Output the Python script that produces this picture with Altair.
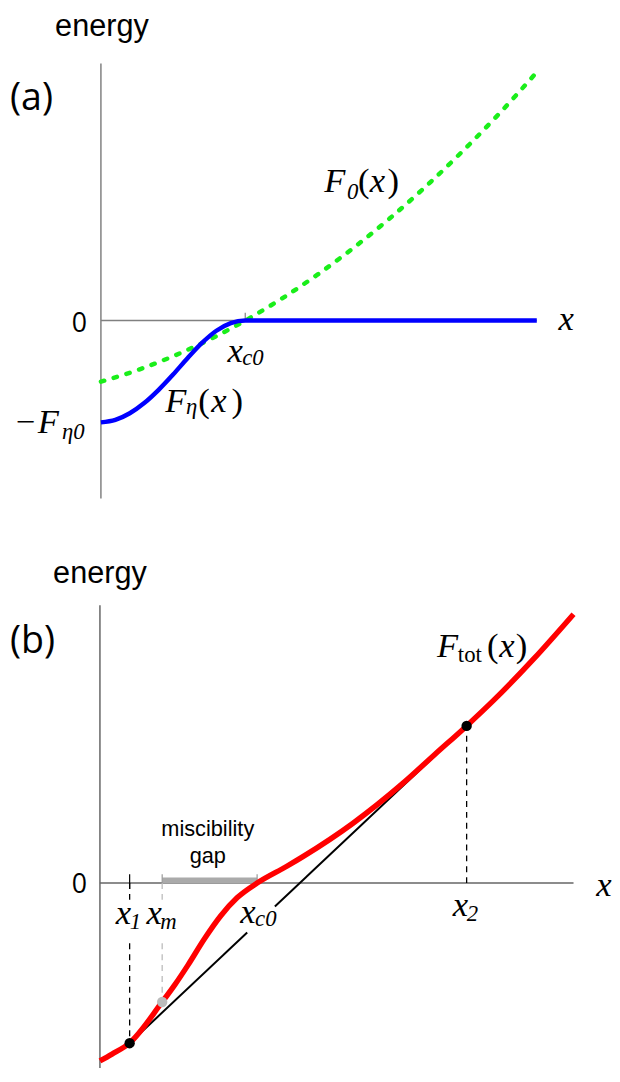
import altair as alt
import pandas as pd

# ---------------- panel (a): values ----------------
eta_x = [0.0, 0.1, 0.2, 0.3, 0.4, 0.5, 0.6, 0.7, 0.8, 0.9, 1.0, 3.02]
eta_y = [-1.00, -0.975, -0.91, -0.81, -0.68, -0.53, -0.37, -0.22, -0.10, -0.025, 0.0, 0.0]
f0_x = [0.0, 0.25, 0.5, 0.75, 1.0, 1.25, 1.5, 1.75, 2.0, 2.25, 2.5, 2.75, 3.02]
f0_y = [-0.600, -0.488, -0.350, -0.188, 0.0, 0.213, 0.451, 0.714, 1.002, 1.316, 1.655, 2.018, 2.44]
a_xc0 = 1.0
a_xend = 3.02
a_ytop, a_ybot = 2.524, -1.748

# ---------------- panel (b): values ----------------
tot_x = [0.0, 0.077, 0.187, 0.396, 0.476, 0.560, 0.665, 0.769, 0.874, 1.0, 1.189,
         1.294, 1.608, 1.923, 2.132, 2.333, 2.509, 2.761, 3.013]
tot_y = [-1.80, -1.73, -1.62, -1.203, -1.03, -0.83, -0.563, -0.33, -0.147, 0.0, 0.17,
         0.27, 0.603, 1.003, 1.303, 1.59, 1.855, 2.27, 2.72]
b_x1, b_xm, b_xc0, b_x2 = 0.189, 0.396, 1.0, 2.333
b_y1, b_ym, b_y2 = -1.62, -1.203, 1.59
b_xend = 3.013
b_ytop, b_ybot = 2.81, -1.87
gap_lo, gap_hi = 0.937, 1.113          # tangent line interrupted by the x_c0 label
lab_top, lab_bot = -0.18, -0.61        # dashed guides interrupted by the labels

A_XDOM, A_YDOM = [-0.6438, 3.4932], [-2.1553, 3.0097]
B_XDOM, B_YDOM = [-0.5849, 3.2138], [-1.87, 3.47]
W, HA, HB = 604, 532, 534

SANS = "Liberation Sans"
SANS2 = "Open Sans"
SERIF = "Liberation Serif"
MS, SS = 35, 23   # math main / subscript sizes


def enc(xdom, ydom):
    return dict(
        x=alt.X("x:Q", scale=alt.Scale(domain=xdom, nice=False, zero=False), axis=None),
        y=alt.Y("y:Q", scale=alt.Scale(domain=ydom, nice=False, zero=False), axis=None),
    )


def rules(rows, xdom, ydom, color, width, dash=None):
    df = pd.DataFrame(rows, columns=["x", "y", "x2", "y2"])
    kw = dict(color=color, strokeWidth=width)
    if dash:
        kw["strokeDash"] = dash
    return alt.Chart(df).mark_rule(**kw).encode(
        **enc(xdom, ydom), x2="x2:Q", y2="y2:Q")


def texts(rows, xdom, ydom, font, style="normal", align="left", color="black", clip=False):
    df = pd.DataFrame(rows, columns=["t", "x", "y", "s"])
    kw = dict(font=font, fontStyle=style, align=align, baseline="alphabetic", color=color)
    if clip:
        kw["clip"] = True
    return alt.Chart(df).mark_text(**kw).encode(
        **enc(xdom, ydom), text="t:N", size=alt.Size("s:Q", scale=None))


# ---------------- panel (a) ----------------
ea = enc(A_XDOM, A_YDOM)
a_axes = rules([[0, a_ybot, 0, a_ytop], [0, 0, a_xend, 0]], A_XDOM, A_YDOM, "#808080", 1.5)
a_tick = rules([[a_xc0, 0, a_xc0, 0.078]], A_XDOM, A_YDOM, "#808080", 1.2)
a_f0 = alt.Chart(pd.DataFrame({"x": f0_x, "y": f0_y})).mark_line(
    color="#1aee1a", strokeWidth=4.5, strokeDash=[3.5, 10], strokeCap="round",
    interpolate="monotone").encode(**ea)
a_eta = alt.Chart(pd.DataFrame({"x": eta_x, "y": eta_y})).mark_line(
    color="#0000ff", strokeWidth=4.5, interpolate="monotone").encode(**ea)

a_sans_c = texts([["energy", 0.007, 2.796, 31]], A_XDOM, A_YDOM, SANS, align="center", clip=True)
a_sans2 = texts([["(a)", -0.630, 2.068, 38]], A_XDOM, A_YDOM, SANS2)
a_zero = texts([["0", -0.096, -0.117, 27]], A_XDOM, A_YDOM, SANS2, align="right")
a_it = texts([
    ["x", 3.171, -0.097, MS],
    ["F", 1.548, 1.262, MS], ["0", 1.705, 1.194, SS], ["x", 1.863, 1.262, MS],
    ["F", 0.445, -0.893, MS], ["η", 0.590, -0.922, SS], ["x", 0.765, -0.893, MS],
    ["x", 0.877, -0.408, MS], ["c0", 0.979, -0.437, SS],
    ["F", -0.438, -1.107, MS], ["η0", -0.270, -1.165, SS],
], A_XDOM, A_YDOM, SERIF, style="italic")
a_up = texts([
    ["(", 1.781, 1.262, MS], [")", 1.985, 1.262, MS],
    ["(", 0.675, -0.893, MS], [")", 0.905, -0.893, MS],
    ["−", -0.590, -1.107, MS],
], A_XDOM, A_YDOM, SERIF)

panel_a = alt.layer(a_axes, a_tick, a_f0, a_eta, a_sans_c, a_sans2, a_zero, a_it, a_up).properties(
    width=W, height=HA)

# ---------------- panel (b) ----------------
eb = enc(B_XDOM, B_YDOM)
slope = (b_y2 - b_y1) / (b_x2 - b_x1)
b_axes = rules([[0, b_ybot, 0, b_ytop], [0, 0, b_xend, 0]], B_XDOM, B_YDOM, "#666666", 1.5)
b_gap = rules([[b_xm, 0.025, b_xc0, 0.025]], B_XDOM, B_YDOM, "#aaaaaa", 6)
b_gap_ticks = rules([[b_xm, 0, b_xm, 0.09], [b_xc0, 0, b_xc0, 0.09]], B_XDOM, B_YDOM, "#999999", 1.2)
b_x1_tick = rules([[b_x1, -0.06, b_x1, 0.09]], B_XDOM, B_YDOM, "black", 1.2)
b_dash_k = rules([[b_x1, 0, b_x1, lab_top], [b_x1, lab_bot, b_x1, b_y1],
                  [b_x2, 0, b_x2, b_y2]], B_XDOM, B_YDOM, "black", 1.3, [6, 5])
b_dash_g = rules([[b_xm, 0, b_xm, lab_top], [b_xm, lab_bot, b_xm, b_ym]],
                 B_XDOM, B_YDOM, "#bbbbbb", 1.3, [6, 5])
b_tan = rules([[b_x1, b_y1, gap_lo, b_y1 + slope * (gap_lo - b_x1)],
               [gap_hi, b_y1 + slope * (gap_hi - b_x1), b_x2, b_y2]],
              B_XDOM, B_YDOM, "black", 2)
b_tot = alt.Chart(pd.DataFrame({"x": tot_x, "y": tot_y})).mark_line(
    color="#ff0000", strokeWidth=5.5, interpolate="monotone").encode(**eb)
b_dots_k = alt.Chart(pd.DataFrame({"x": [b_x1, b_x2], "y": [b_y1, b_y2]})).mark_point(
    filled=True, color="black", size=110, opacity=1).encode(**eb)
b_dot_g = alt.Chart(pd.DataFrame({"x": [b_xm], "y": [b_ym]})).mark_point(
    filled=True, color="#bbbbbb", size=110, opacity=1).encode(**eb)

b_sans_c = texts([["energy", 0.0, 3.04, 31], ["miscibility", 0.686, 0.48, 22],
                  ["gap", 0.686, 0.20, 22]], B_XDOM, B_YDOM, SANS, align="center")
b_sans2 = texts([["(b)", -0.572, 2.33, 38]], B_XDOM, B_YDOM, SANS2)
b_zero = texts([["0", -0.082, -0.10, 27]], B_XDOM, B_YDOM, SANS2, align="right")
b_it = texts([
    ["x", 3.157, -0.13, MS],
    ["x", 0.101, -0.41, MS], ["1", 0.189, -0.46, SS],
    ["x", 0.296, -0.41, MS], ["m", 0.384, -0.46, SS],
    ["x", 0.893, -0.40, MS], ["c0", 0.987, -0.43, SS],
    ["x", 2.245, -0.33, MS], ["2", 2.333, -0.38, SS],
    ["F", 2.145, 2.29, MS], ["x", 2.540, 2.29, MS],
], B_XDOM, B_YDOM, SERIF, style="italic")
b_up = texts([
    ["tot", 2.277, 2.24, SS], ["(", 2.462, 2.29, MS], [")", 2.645, 2.29, MS],
], B_XDOM, B_YDOM, SERIF)

panel_b = alt.layer(b_axes, b_gap, b_gap_ticks, b_x1_tick, b_dash_k, b_dash_g, b_tan, b_tot,
                    b_dots_k, b_dot_g, b_sans_c, b_sans2, b_zero, b_it, b_up).properties(
    width=W, height=HB)

chart = alt.vconcat(panel_a, panel_b, spacing=0).properties(padding=0).configure_view(stroke=None)

chart.save("out.html", embed_options={"renderer": "svg", "actions": False})
